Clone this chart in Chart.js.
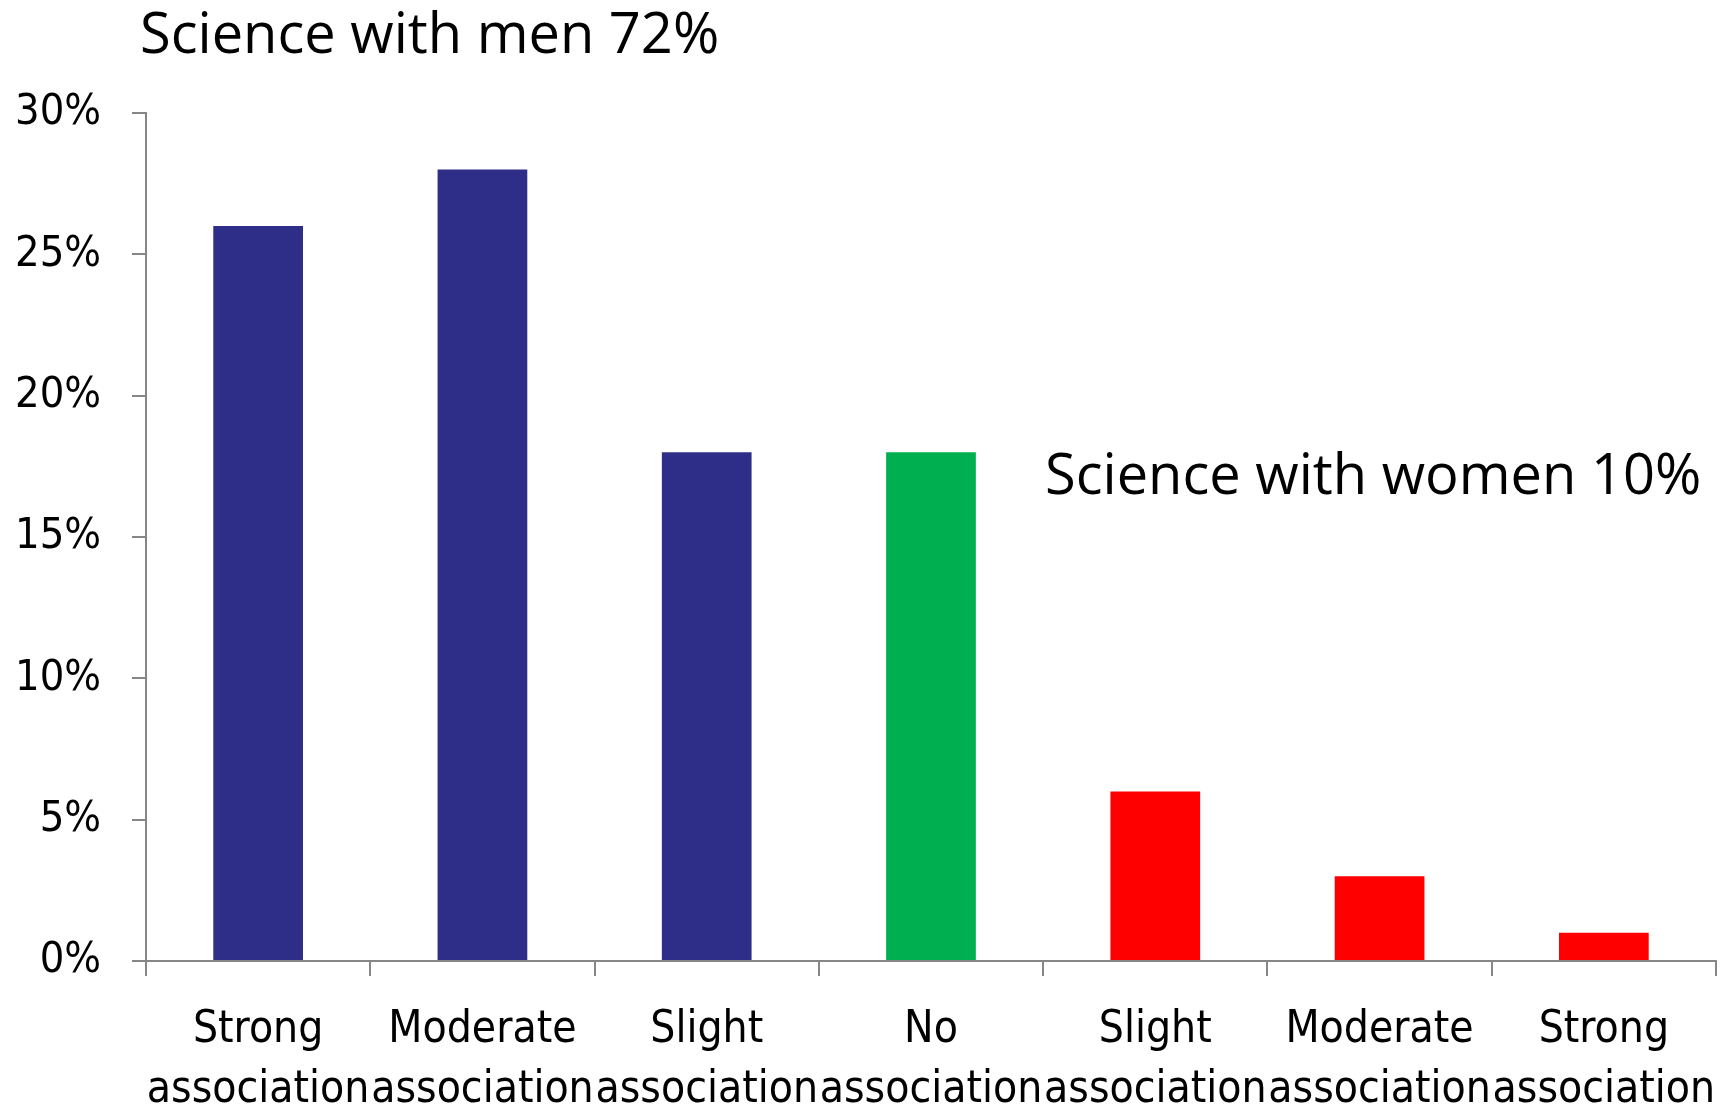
<!DOCTYPE html>
<html>
<head>
<meta charset="utf-8">
<script src="https://cdn.jsdelivr.net/npm/chart.js@4"></script>
<style>
  html, body { margin: 0; padding: 0; background: #ffffff; }
  #wrap { width: 1721px; height: 1106px; }
</style>
</head>
<body>
<div id="wrap"><canvas id="grafico"></canvas></div>
<script>
const categories = [
    ['Strong', 'association'],
    ['Moderate', 'association'],
    ['Slight', 'association'],
    ['No', 'association'],
    ['Slight', 'association'],
    ['Moderate', 'association'],
    ['Strong', 'association']
];
const values = [26, 28, 18, 18, 6, 3, 1];
const yTicks = [0, 5, 10, 15, 20, 25, 30];
const menText = 'Science with men 72%';
const womenText = 'Science with women 10%';

const barColors = ['#2E2E88', '#2E2E88', '#2E2E88', '#00B050', '#FF0000', '#FF0000', '#FF0000'];
const labelFont = '"DejaVu Sans Condensed", "DejaVu Sans", sans-serif';
const noteFont = '"Open Sans", "Noto Sans", sans-serif';

// textos soltos: titulo em cima e a nota do lado direito
const notas = {
    id: 'notas',
    afterDraw(chart) {
        const ctx = chart.ctx;
        const area = chart.chartArea;
        ctx.save();
        ctx.fillStyle = '#000000';
        ctx.font = '56px ' + noteFont;
        ctx.textBaseline = 'alphabetic';
        ctx.textAlign = 'left';
        ctx.fillText(menText, area.left - 6, area.top - 60);
        ctx.fillText(womenText, 1045, 494);
        ctx.restore();
    }
};

const ctx = document.getElementById('grafico').getContext('2d');
new Chart(ctx, {
    type: 'bar',
    data: {
        labels: categories,
        datasets: [{
            data: values,
            backgroundColor: barColors,
            borderWidth: 0,
            barPercentage: 0.4,
            categoryPercentage: 1
        }]
    },
    options: {
        responsive: true,
        maintainAspectRatio: false,
        animation: false,
        layout: {
            padding: { top: 113, right: 5, left: 0, bottom: 0 }
        },
        plugins: {
            legend: { display: false },
            tooltip: { enabled: false }
        },
        scales: {
            x: {
                offset: true,
                grid: {
                    offset: true,
                    drawOnChartArea: false,
                    color: '#868686',
                    lineWidth: 2,
                    tickLength: 15
                },
                border: { color: '#868686', width: 2 },
                ticks: {
                    color: '#000000',
                    font: { family: labelFont, size: 44, lineHeight: 1.36 },
                    padding: 25,
                    maxRotation: 0,
                    autoSkip: false
                },
                afterFit(scale) {
                    scale.height = 145;
                    // os rotulos cabem na categoria, nao precisa de folga lateral
                    scale.paddingLeft = 0;
                    scale.paddingRight = 0;
                }
            },
            y: {
                min: 0,
                max: 30,
                afterBuildTicks(scale) {
                    scale.ticks = yTicks.map(v => ({ value: v }));
                },
                grid: {
                    drawOnChartArea: false,
                    color: '#868686',
                    lineWidth: 2,
                    tickLength: 14
                },
                border: { color: '#868686', width: 2 },
                ticks: {
                    color: '#000000',
                    font: { family: labelFont, size: 43 },
                    padding: 31,
                    callback: v => v + '%'
                },
                afterFit(scale) { scale.width = 146; }
            }
        }
    },
    plugins: [notas]
});
</script>
</body>
</html>
